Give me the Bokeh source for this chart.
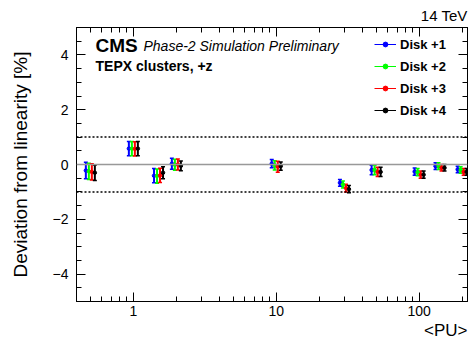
import numpy as np
from bokeh.plotting import figure
from bokeh.models import (Range1d, LinearAxis, LogAxis, FixedTicker, Whisker, TeeHead,
                          ColumnDataSource, Legend, LegendItem, Label, Span, Title)
from bokeh.embed import file_html
from bokeh.resources import INLINE

# ---- data ----
pu = [0.5, 1.0, 1.5, 2.0, 10.0, 30.0, 50.0, 100.0, 140.0, 200.0]
disk1 = [-0.22, 0.58, -0.41, 0.03, 0.03, -0.67, -0.20, -0.26, -0.06, -0.18]
disk2 = [-0.25, 0.58, -0.42, -0.01, -0.03, -0.73, -0.20, -0.28, -0.06, -0.20]
disk3 = [-0.27, 0.57, -0.40, 0.00, -0.08, -0.86, -0.27, -0.37, -0.12, -0.27]
disk4 = [-0.30, 0.58, -0.30, -0.05, -0.06, -0.90, -0.27, -0.37, -0.12, -0.27]
err1 = [0.30, 0.26, 0.26, 0.20, 0.15, 0.12, 0.17, 0.13, 0.12, 0.12]
err2 = [0.30, 0.26, 0.26, 0.20, 0.17, 0.13, 0.17, 0.13, 0.12, 0.12]
err3 = [0.30, 0.26, 0.26, 0.20, 0.20, 0.14, 0.17, 0.13, 0.12, 0.12]
err4 = [0.28, 0.26, 0.22, 0.18, 0.15, 0.13, 0.17, 0.13, 0.12, 0.12]
labels = ["Disk +1", "Disk +2", "Disk +3", "Disk +4"]
colors = ["#0000ff", "#00ff00", "#ff0000", "#000000"]
x_major = [1, 10, 100]
x_major_labels = ["1", "10", "100"]
x_minor = [0.4, 0.5, 0.6, 0.7, 0.8, 0.9, 2, 3, 4, 5, 6, 7, 8, 9,
           20, 30, 40, 50, 60, 70, 80, 90, 200]
y_major = [-4, -2, 0, 2, 4]
y_minor = [v / 2 for v in range(-10, 11)]

FONT = "Liberation Sans"

p = figure(width=469, height=339, output_backend="svg", toolbar_location=None,
           x_axis_type="log", x_range=Range1d(0.4, 218), y_range=Range1d(-5, 5),
           min_border_left=76, min_border_right=2, min_border_top=27,
           min_border_bottom=38, outline_line_color="black", outline_line_width=1,
           background_fill_color="white", border_fill_color="white")
p.xgrid.visible = False
p.ygrid.visible = False


def style_axis(ax, major, minor, show_labels):
    ax.ticker = FixedTicker(ticks=major, minor_ticks=minor)
    ax.major_tick_in = 9
    ax.major_tick_out = 0
    ax.minor_tick_in = 5
    ax.minor_tick_out = 0
    ax.axis_line_color = "black"
    ax.major_tick_line_color = "black"
    ax.minor_tick_line_color = "black"
    ax.major_label_text_font = FONT
    ax.major_label_text_font_size = "14px"
    ax.major_label_text_color = "black"
    if not show_labels:
        ax.major_label_overrides = {t: "" for t in major}
        ax.major_label_standoff = 0


xa = p.xaxis[0]
style_axis(xa, x_major, x_minor, True)
xa.major_label_overrides = dict(zip(x_major, x_major_labels))
xa.major_label_standoff = 4
ya = p.yaxis[0]
style_axis(ya, y_major, y_minor, True)
ya.major_label_standoff = 8
ya.axis_label = "Deviation from linearity [%]"
ya.axis_label_text_font = FONT
ya.axis_label_text_font_style = "normal"
ya.axis_label_text_font_size = "19px"
ya.axis_label_text_color = "black"
ya.axis_label_standoff = 19

top = LogAxis()
style_axis(top, x_major, x_minor, False)
p.add_layout(top, "above")
right = LinearAxis()
style_axis(right, y_major, y_minor, False)
p.add_layout(right, "right")

# titles (outside the frame)
p.title.text = "14 TeV"
p.title.align = "right"
p.title.text_font = FONT
p.title.text_font_style = "normal"
p.title.text_font_size = "15px"
p.title.text_color = "black"
p.title.standoff = 8
p.title.offset = 0
p.add_layout(Title(text="<PU>", align="right", text_font=FONT, text_color="black",
                   text_font_style="normal", text_font_size="17px", standoff=0),
             "below")

# reference lines
p.add_layout(Span(location=0, dimension="width", line_color="#999999", line_width=1.5))
p.add_layout(Span(location=1, dimension="width", line_color="black", line_width=1.5,
                  line_dash="2 2"))
p.add_layout(Span(location=-1, dimension="width", line_color="black", line_width=1.5,
                  line_dash="2 2"))

items = []
series = [(disk1, err1), (disk2, err2), (disk3, err3), (disk4, err4)]
for k, ((vals, errs), lab, col) in enumerate(zip(series, labels, colors)):
    shift = 10 ** ((k - 1.5) * 0.021)
    xs = [x * shift for x in pu]
    src = ColumnDataSource(dict(x=xs, y=vals,
                                lo=[v - e for v, e in zip(vals, errs)],
                                hi=[v + e for v, e in zip(vals, errs)]))
    w = Whisker(source=src, base="x", lower="lo", upper="hi", dimension="height",
                line_color=col, line_width=2,
                upper_head=TeeHead(size=4, line_color=col, line_width=1.5),
                lower_head=TeeHead(size=4, line_color=col, line_width=1.5))
    p.add_layout(w)
    sc = p.scatter("x", "y", source=src, size=3.5, color=col)
    ln = p.line(x=[xs[0]], y=[vals[0]], line_color=col, line_width=1)
    items.append(LegendItem(label=lab, renderers=[ln, sc]))

legend = Legend(items=items, location=(298, 180), padding=0, margin=0,
                border_line_alpha=0, background_fill_alpha=0,
                glyph_width=22, glyph_height=12, label_height=22, spacing=0,
                label_standoff=4, label_text_font=FONT, label_text_font_style="bold",
                label_text_font_size="13px", label_text_baseline="middle",
                label_text_color="black")
p.add_layout(legend, "center")

# texts inside the frame
p.add_layout(Label(x=0.4, y=5, x_offset=19, y_offset=-18, text="CMS",
                   text_font=FONT, text_font_style="bold", text_font_size="19px",
                   text_color="black", text_baseline="alphabetic"))
p.add_layout(Label(x=0.4, y=5, x_offset=67, y_offset=-18,
                   text="Phase-2 Simulation Preliminary",
                   text_font=FONT, text_font_style="italic", text_font_size="14px",
                   text_color="black", text_baseline="alphabetic"))
p.add_layout(Label(x=0.4, y=5, x_offset=19, y_offset=-38, text="TEPX clusters, +z",
                   text_font=FONT, text_font_style="bold", text_font_size="14px",
                   text_color="black", text_baseline="alphabetic"))

open("out.html", "w").write(file_html(p, INLINE))
